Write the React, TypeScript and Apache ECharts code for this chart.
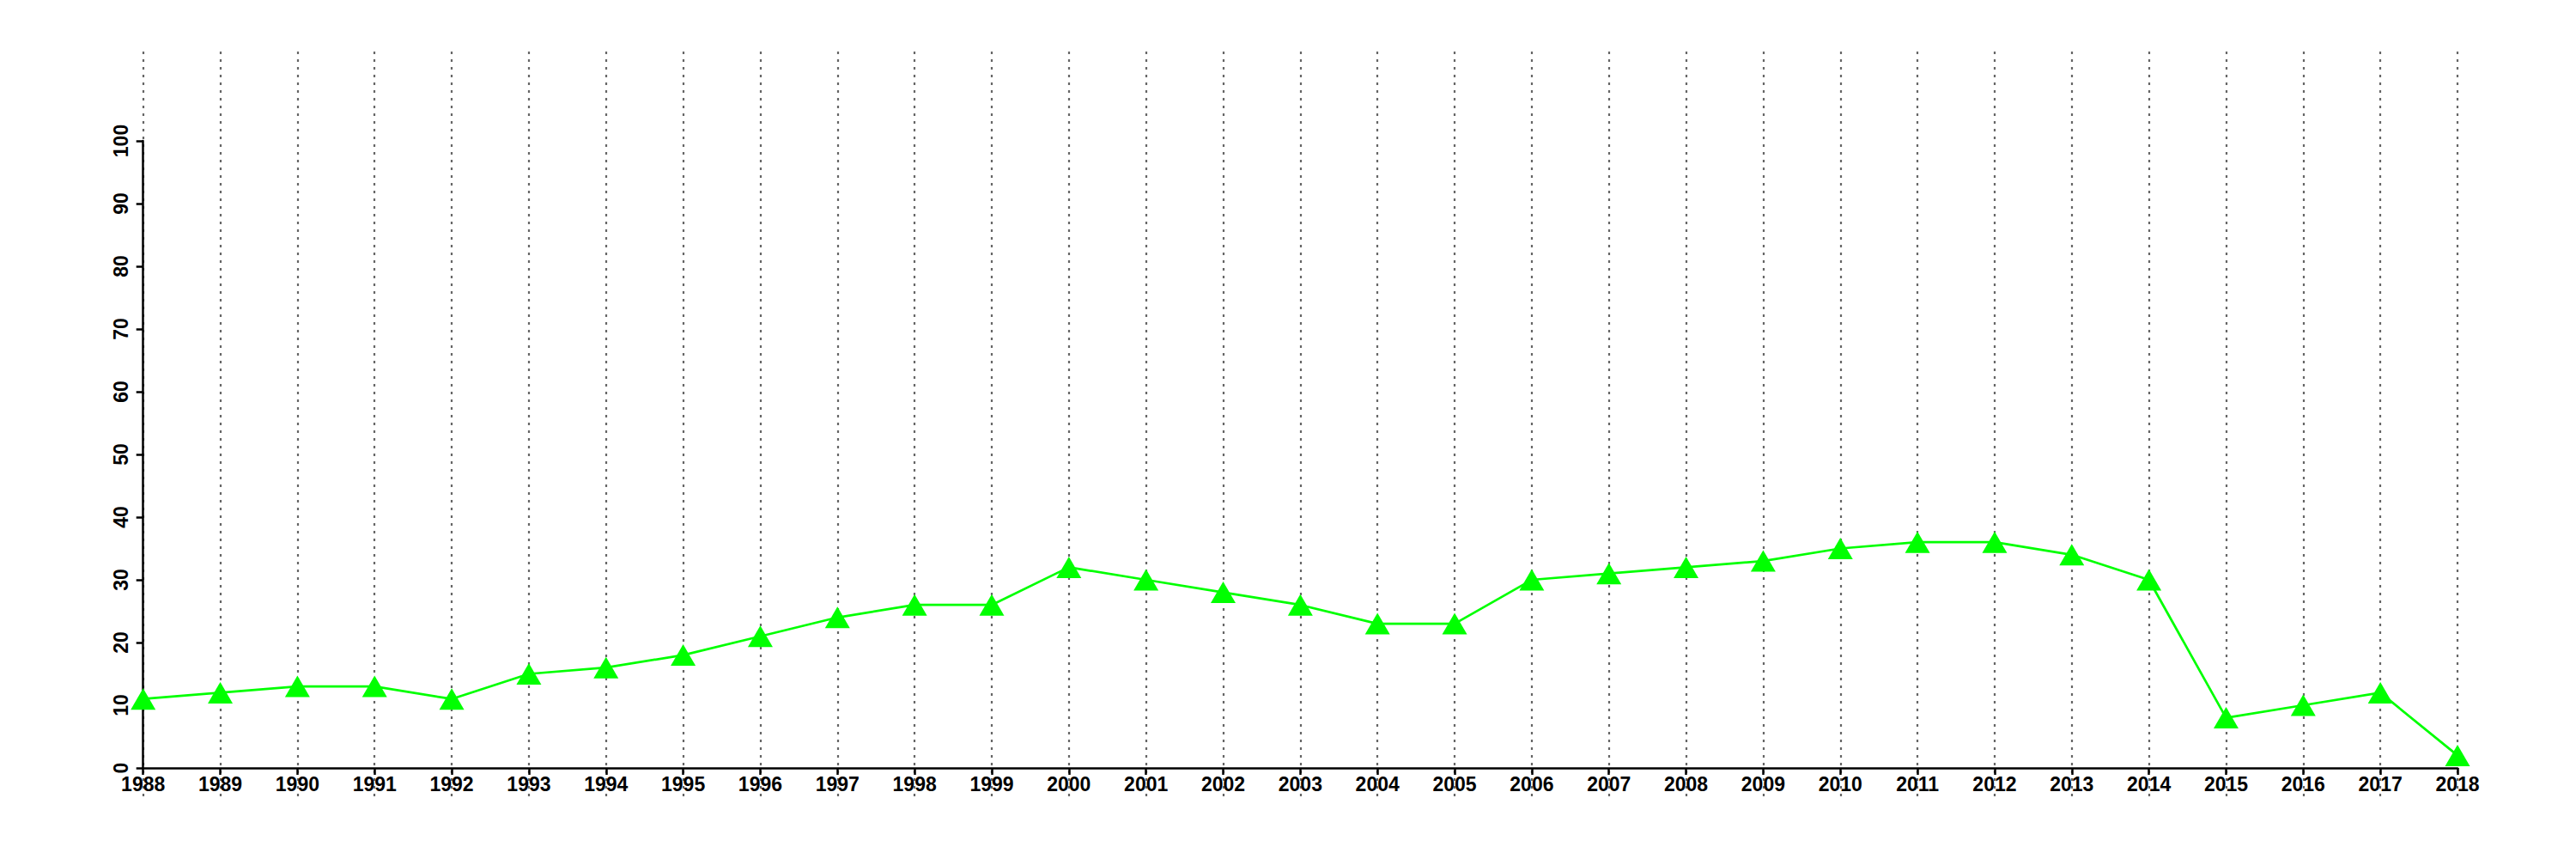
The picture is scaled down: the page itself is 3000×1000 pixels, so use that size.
import React, { useEffect, useRef } from "react";
import * as echarts from "echarts";

const years = [
  "1988", "1989", "1990", "1991", "1992", "1993", "1994", "1995", "1996", "1997",
  "1998", "1999", "2000", "2001", "2002", "2003", "2004", "2005", "2006", "2007",
  "2008", "2009", "2010", "2011", "2012", "2013", "2014", "2015", "2016", "2017", "2018",
];
const values = [
  11, 12, 13, 13, 11, 15, 16, 18, 21, 24,
  26, 26, 32, 30, 28, 26, 23, 23, 30, 31,
  32, 33, 35, 36, 36, 34, 30, 8, 10, 12, 2,
];

const FONT = "Liberation Sans";

export default function App() {
  const ref = useRef<HTMLDivElement>(null);
  useEffect(() => {
    if (!ref.current) return;
    const chart = echarts.init(ref.current, null, { renderer: "svg" });
    chart.setOption({
      animation: false,
      backgroundColor: "#ffffff",
      grid: [
        { left: 166.7, right: 138, top: 164, bottom: 106 },
        { left: 166.7, right: 138, top: 60, bottom: 73 },
      ],
      xAxis: [
        {
          type: "category",
          gridIndex: 0,
          data: years,
          boundaryGap: false,
          axisLine: { show: true, lineStyle: { color: "#000", width: 2.5 } },
          axisTick: { show: true, length: 8, interval: 0, lineStyle: { color: "#000", width: 2.5 } },
          axisLabel: {
            interval: 0,
            margin: 7,
            color: "#000",
            fontFamily: FONT,
            fontWeight: "bold",
            fontSize: 23,
          },
          splitLine: { show: false },
          z: 3,
        },
        {
          type: "category",
          gridIndex: 1,
          data: years,
          boundaryGap: false,
          axisLine: { show: false },
          axisTick: { show: false },
          axisLabel: { show: false },
          splitLine: {
            show: true,
            interval: 0,
            lineStyle: { color: "#666666", width: 2.2, type: [3, 6] },
          },
        },
      ],
      yAxis: [
        {
          type: "value",
          gridIndex: 0,
          min: 0,
          max: 100,
          interval: 10,
          axisLine: { show: true, lineStyle: { color: "#000", width: 2.5 } },
          axisTick: { show: true, length: 8, lineStyle: { color: "#000", width: 2.5 } },
          axisLabel: {
            rotate: 90,
            margin: 14,
            color: "#000",
            fontFamily: FONT,
            fontWeight: "bold",
            fontSize: 23,
          },
          splitLine: { show: false },
          z: 3,
        },
        {
          type: "value",
          gridIndex: 1,
          show: false,
          min: 0,
          max: 1,
          splitLine: { show: false },
        },
      ],
      series: [
        {
          type: "line",
          xAxisIndex: 0,
          yAxisIndex: 0,
          data: values,
          symbol: "triangle",
          symbolSize: [29, 25],
          showAllSymbol: true,
          lineStyle: { color: "#00ff00", width: 2.7 },
          itemStyle: { color: "#00ff00" },
          clip: false,
          z: 5,
        },
      ],
    });
    return () => chart.dispose();
  }, []);
  return (
    <div
      ref={ref}
      style={{ position: "fixed", left: 0, top: 0, width: 3000, height: 1000 }}
    />
  );
}
